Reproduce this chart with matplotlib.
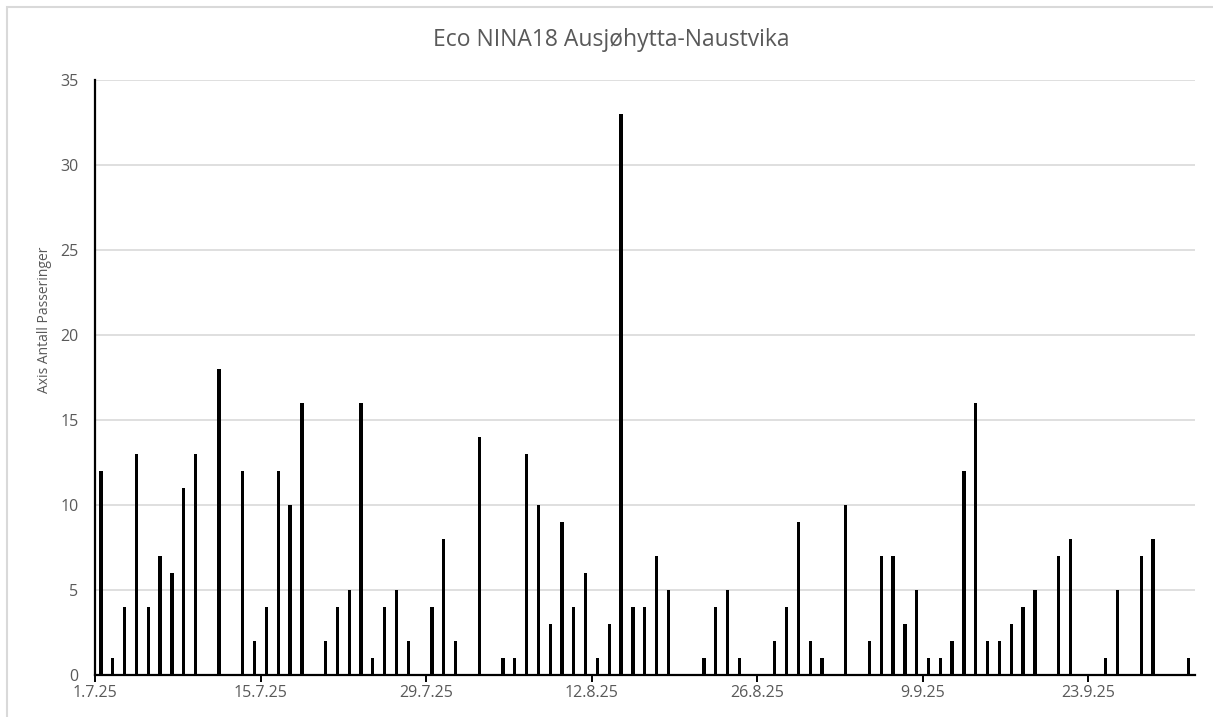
import matplotlib.pyplot as plt
import matplotlib.dates as mdates
import pandas as pd
from matplotlib.patches import Rectangle

plt.rcParams['font.family'] = ['Open Sans', 'DejaVu Sans']

# daily passings (days not listed are zero)
dates = [
    '2025-07-01', '2025-07-02', '2025-07-03', '2025-07-04', '2025-07-05', '2025-07-06',
    '2025-07-07', '2025-07-08', '2025-07-09', '2025-07-11', '2025-07-13', '2025-07-14',
    '2025-07-15', '2025-07-16', '2025-07-17', '2025-07-18', '2025-07-20', '2025-07-21',
    '2025-07-22', '2025-07-23', '2025-07-24', '2025-07-25', '2025-07-26', '2025-07-27',
    '2025-07-29', '2025-07-30', '2025-07-31', '2025-08-02', '2025-08-04', '2025-08-05',
    '2025-08-06', '2025-08-07', '2025-08-08', '2025-08-09', '2025-08-10', '2025-08-11',
    '2025-08-12', '2025-08-13', '2025-08-14', '2025-08-15', '2025-08-16', '2025-08-17',
    '2025-08-18', '2025-08-21', '2025-08-22', '2025-08-23', '2025-08-24', '2025-08-27',
    '2025-08-28', '2025-08-29', '2025-08-30', '2025-08-31', '2025-09-02', '2025-09-04',
    '2025-09-05', '2025-09-06', '2025-09-07', '2025-09-08', '2025-09-09', '2025-09-10',
    '2025-09-11', '2025-09-12', '2025-09-13', '2025-09-14', '2025-09-15', '2025-09-16',
    '2025-09-17', '2025-09-18', '2025-09-20', '2025-09-21', '2025-09-24', '2025-09-25',
    '2025-09-27', '2025-09-28', '2025-10-01',
]
counts = [
    12, 1, 4, 13, 4, 7,
    6, 11, 13, 18, 12, 2,
    4, 12, 10, 16, 2, 4,
    5, 16, 1, 4, 5, 2,
    4, 8, 2, 14, 1, 1,
    13, 10, 3, 9, 4, 6,
    1, 3, 33, 4, 4, 7,
    5, 1, 4, 5, 1, 2,
    4, 9, 2, 1, 10, 2,
    7, 7, 3, 5, 1, 1,
    2, 12, 16, 2, 2, 3,
    4, 5, 7, 8, 1, 5,
    7, 8, 1,
]
tick_dates = ['2025-07-01', '2025-07-15', '2025-07-29', '2025-08-12',
              '2025-08-26', '2025-09-09', '2025-09-23']
tick_labels = ['1.7.25', '15.7.25', '29.7.25', '12.8.25', '26.8.25', '9.9.25', '23.9.25']
x_start = '2025-07-01'
x_end = '2025-10-02'

grey = '#595959'
W, H = 1213, 717
fig = plt.figure(figsize=(W / 100, H / 100), dpi=100)
ax = fig.add_axes([95 / W, 1 - 675 / H, (1194.5 - 95) / W, (675 - 80) / H])

x = mdates.date2num(pd.to_datetime(dates)) + 0.5
ax.bar(x, counts, width=0.28, color='black', zorder=3)

ax.set_xlim(mdates.date2num(pd.Timestamp(x_start)), mdates.date2num(pd.Timestamp(x_end)))
ax.set_ylim(0, 35)
ax.set_yticks(range(0, 36, 5))
ax.set_xticks(mdates.date2num(pd.to_datetime(tick_dates)))
ax.set_xticklabels(tick_labels)

ax.grid(axis='y', color='#d9d9d9', linewidth=1.2, zorder=0)
ax.set_axisbelow(True)
for s in ['top', 'right']:
    ax.spines[s].set_visible(False)
for s in ['left', 'bottom']:
    ax.spines[s].set_color('black')
    ax.spines[s].set_linewidth(1.6)
    ax.spines[s].set_zorder(4)
ax.tick_params(axis='y', length=0, pad=12, labelsize=11.5, labelcolor=grey)
ax.tick_params(axis='x', length=5, width=1.4, direction='out', pad=2,
               labelsize=11.5, labelcolor=grey)

fig.text(45 / W, 1 - 320 / H, 'Axis Antall Passeringer', rotation=90,
         ha='center', va='center', fontsize=10, color=grey)
fig.text(611 / W, 1 - 40 / H, 'Eco NINA18 Ausjøhytta-Naustvika',
         ha='center', va='center', fontsize=16.5, color=grey)

# chart area border
fig.patches.append(Rectangle((7 / W, -0.1), 1.2, 1 - 6.5 / H + 0.1,
                             transform=fig.transFigure, fill=False,
                             edgecolor='#d9d9d9', linewidth=1.5))

fig.savefig('out.png', dpi=100)
